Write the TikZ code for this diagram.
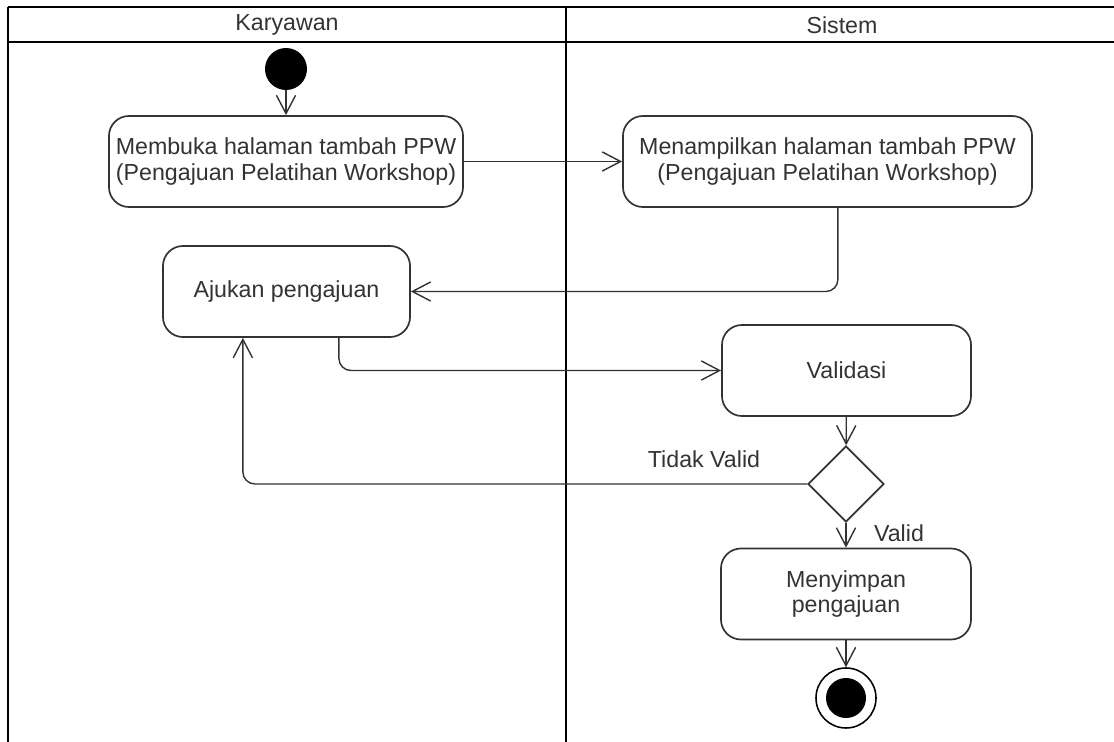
\documentclass[tikz,border=0pt]{standalone}
\usepackage{fontspec}
\setmainfont{Liberation Sans}
\usepackage{xcolor}
\usetikzlibrary{arrows.meta, shapes.geometric, calc}
\definecolor{garis}{HTML}{333333}

\begin{document}
\begin{tikzpicture}[x=0.025cm, y=-0.025cm,
    lajur/.style={line width=1.8pt, draw=black},
    aktivitas/.style={rectangle, rounded corners=0.5cm, draw=garis, line width=1.2pt,
      fill=white, minimum height=2.275cm, inner sep=2pt, align=center, text=garis,
      font=\fontsize{16.5}{18.4}\selectfont},
    cabang/.style={diamond, draw=garis, line width=1.2pt, fill=white,
      minimum width=1.9cm, minimum height=1.9cm, inner sep=0pt},
    mulai/.style={circle, fill=black, minimum size=1.05cm, inner sep=0pt},
    selesai/.style={circle, draw=black, line width=1.1pt, fill=white,
      minimum size=1.5cm, inner sep=0pt},
    alur/.style={-{Straight Barb[length=4.6mm, width=4.8mm]}, draw=garis,
      line width=1pt, rounded corners=0.3cm},
    teks/.style={text=garis, font=\fontsize{16.5}{18.4}\selectfont}
]
\useasboundingbox (0,0) rectangle (1114,742);
% swimlane
\draw[lajur] (8,7) -- (1114,7);
\draw[lajur] (8,42) -- (1114,42);
\draw[lajur] (8,7) -- (8,742);
\draw[lajur] (566,7) -- (566,742);
\node[teks] (lajurkaryawan) at (287,25) {Karyawan};
\node[teks] (lajursistem) at (842,25) {Sistem};
% aktivitas
\node[mulai] (awal) at (286,69) {};
\node[aktivitas, minimum width=8.85cm] (membuka) at (286,161.5)
  {Membuka halaman tambah PPW\\(Pengajuan Pelatihan Workshop)};
\node[aktivitas, minimum width=10.225cm] (tampil) at (827.5,161.5)
  {Menampilkan halaman tambah PPW\\(Pengajuan Pelatihan Workshop)};
\node[aktivitas, minimum width=6.175cm] (ajukan) at (286.5,291.5) {Ajukan pengajuan};
\node[aktivitas, minimum width=6.225cm] (validasi) at (846.5,370.5) {Validasi};
\node[cabang] (cek) at (846,484) {};
\node[aktivitas, minimum width=6.25cm] (simpan) at (846,594) {Menyimpan\\pengajuan};
\node[selesai] (akhir) at (846,698) {};
\fill[black] (akhir) circle[radius=0.5cm];
\node[teks] (tidakvalid) at (704,459) {Tidak Valid};
\node[teks] (valid) at (899,533) {Valid};
% alur
\draw[alur] (awal) -- (membuka);
\draw[alur] (membuka) -- (tampil);
\draw[alur] ([xshift=0.26cm]tampil.south) |- (ajukan.east);
\draw[alur] ([xshift=1.31cm]ajukan.south) |- (validasi.west);
\draw[alur] (validasi) -- (cek);
\draw[alur] (cek.west) -| ([xshift=-1.09cm]ajukan.south);
\draw[alur] (cek) -- (simpan);
\draw[alur] (simpan) -- (akhir);
\end{tikzpicture}
\end{document}
